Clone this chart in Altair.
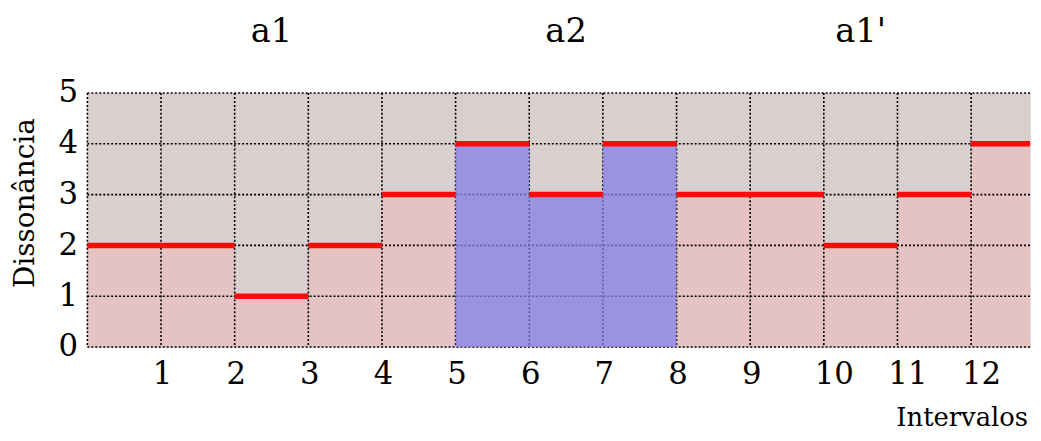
import altair as alt
import pandas as pd

# step segments: start, end, dissonance value, section
starts = [0, 2, 3, 4, 5, 6, 7, 8, 10, 11, 12]
ends = [2, 3, 4, 5, 6, 7, 8, 10, 11, 12, 12.8]
values = [2, 1, 2, 3, 4, 3, 4, 3, 2, 3, 4]
highlight = [False, False, False, False, True, True, True, False, False, False, False]

x_ticks = list(range(0, 13))
y_ticks = [0, 1, 2, 3, 4, 5]
x_labels = [1, 2, 3, 4, 5, 6, 7, 8, 9, 10, 11, 12]

section_names = ["a1", "a2", "a1'"]
section_centers = [2.5, 6.5, 10.5]

x_title = "Intervalos"
y_title = "Dissonância"

seg = pd.DataFrame({"x": starts, "x2": ends, "y": values, "hl": highlight})
seg["y0"] = 0
pink = seg[~seg["hl"]]
blue = seg[seg["hl"]]

vgrid = pd.DataFrame({"x": x_ticks})
hgrid = pd.DataFrame({"y": y_ticks})
sections = pd.DataFrame({"name": section_names, "x": section_centers})
bg = pd.DataFrame({"a": [0]})
xt = pd.DataFrame({"t": [x_title]})
yt = pd.DataFrame({"t": [y_title]})

FONT = "DejaVu Serif"
W, H = 950, 256

xscale = alt.Scale(domain=[0, 12.8], nice=False, zero=False)
yscale = alt.Scale(domain=[0, 5], nice=False)

x_axis = alt.Axis(
    values=x_labels, grid=False, ticks=False, domain=False, format="d",
    labelFont=FONT, labelFontSize=31, labelColor="black", labelPadding=13,
    labelOffset={"condition": {"test": "datum.value >= 10", "value": 10}, "value": 1},
    title=None,
)
y_axis = alt.Axis(
    values=y_ticks, grid=False, ticks=False, domain=False, format="d",
    labelFont=FONT, labelFontSize=31, labelColor="black", labelPadding=10,
    labelBaseline="middle", title=None,
)

background = alt.Chart(bg).mark_rect(color="#d9cfcf").encode(
    x=alt.value(0), x2=alt.value(W), y=alt.value(0), y2=alt.value(H),
)

base_pink = alt.Chart(pink).mark_rect(color="#e5c3c3").encode(
    x=alt.X("x:Q", scale=xscale, axis=x_axis),
    x2="x2:Q",
    y=alt.Y("y0:Q", scale=yscale, axis=y_axis),
    y2="y:Q",
)

grid_v = alt.Chart(vgrid).mark_rule(color="black", strokeDash=[2, 2], strokeWidth=1.6).encode(
    x=alt.X("x:Q", scale=xscale),
    y=alt.value(0), y2=alt.value(H),
)
grid_h = alt.Chart(hgrid).mark_rule(color="black", strokeDash=[2, 2], strokeWidth=1.6).encode(
    y=alt.Y("y:Q", scale=yscale),
    x=alt.value(0), x2=alt.value(W),
)

blue_rect = alt.Chart(blue).mark_rect(color="#8781e4", opacity=0.78).encode(
    x=alt.X("x:Q", scale=xscale),
    x2="x2:Q",
    y=alt.Y("y0:Q", scale=yscale),
    y2="y:Q",
)

red = alt.Chart(seg).mark_rule(color="#ff0a0a", strokeWidth=5.5).encode(
    x=alt.X("x:Q", scale=xscale),
    x2="x2:Q",
    y=alt.Y("y:Q", scale=yscale),
)

texts = alt.Chart(sections).mark_text(
    font=FONT, fontSize=34, color="black", baseline="alphabetic", align="center"
).encode(
    x=alt.X("x:Q", scale=xscale),
    y=alt.value(-51),
    text="name:N",
)

xtitle = alt.Chart(xt).mark_text(
    font=FONT, fontSize=26, color="black", baseline="alphabetic", align="right"
).encode(x=alt.value(W - 2), y=alt.value(H + 80), text="t:N")

ytitle = alt.Chart(yt).mark_text(
    font=FONT, fontSize=28, color="black", baseline="alphabetic", align="center", angle=270
).encode(x=alt.value(-54), y=alt.value(111), text="t:N")

chart = alt.layer(background, base_pink, grid_v, grid_h, blue_rect, red, texts, xtitle, ytitle).properties(
    width=W, height=H,
    autosize=alt.AutoSizeParams(type="none"),
    padding={"left": 80, "top": 84, "right": 3, "bottom": 85},
).configure_view(stroke=None).configure(background="white")

chart.save("out.html", embed_options={"renderer": "svg", "actions": False})
